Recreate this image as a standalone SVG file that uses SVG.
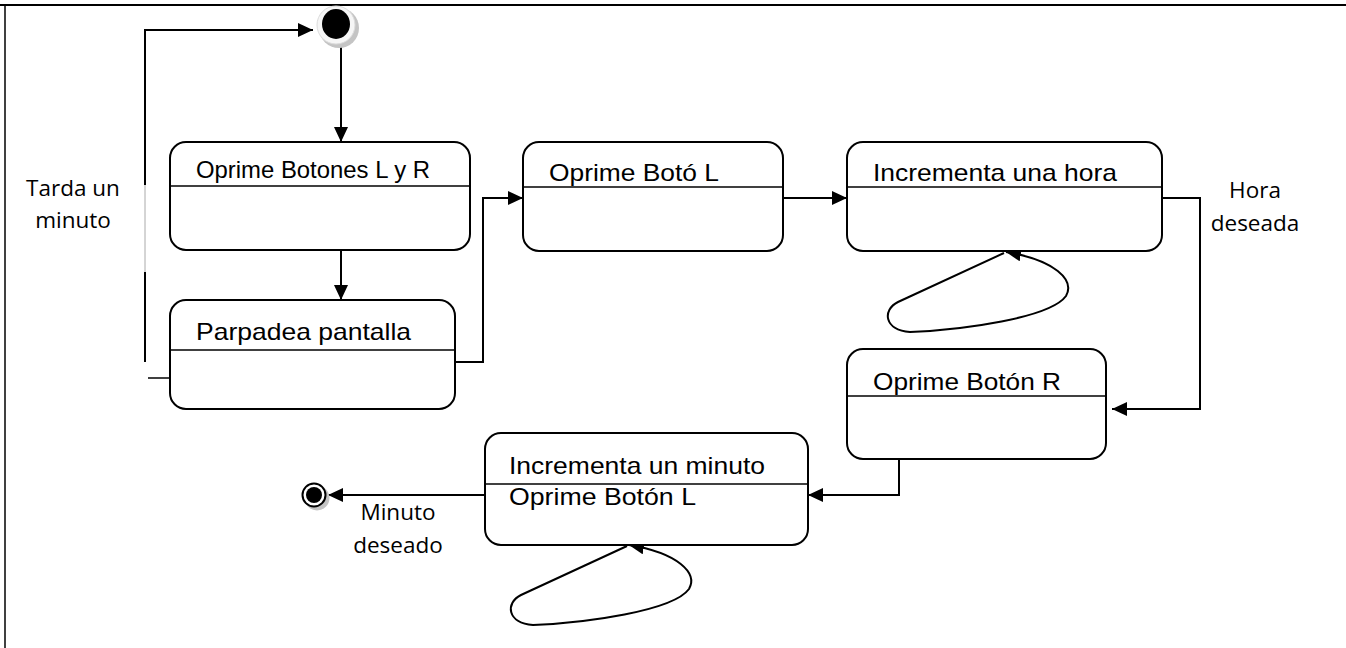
<svg xmlns="http://www.w3.org/2000/svg" width="1346" height="648" viewBox="0 0 1346 648">
<style>
.box{fill:#fff;stroke:#000;stroke-width:2}
.div{stroke:#000;stroke-width:1.5}
.st{font-family:"Liberation Sans",Arial,sans-serif;font-size:24px;fill:#000}
.lbl{font-family:"Open Sans","Liberation Sans",sans-serif;font-size:22.5px;fill:#000;text-anchor:middle}
.c{fill:none;stroke:#000;stroke-width:2}
</style>
<defs>
<marker id="ah" markerUnits="userSpaceOnUse" markerWidth="16" markerHeight="14" refX="15" refY="7" orient="auto">
<path d="M0,0 L15,7 L0,14 Z" fill="#000"/>
</marker>
</defs>
<rect width="1346" height="648" fill="#fff"/>
<g id="frame">
<line x1="0" y1="5" x2="1346" y2="5" stroke="#000" stroke-width="2"/>
<line x1="5" y1="5" x2="5" y2="648" stroke="#000" stroke-width="1.5"/>
</g>
<g id="connectors">
<path class="c" d="M145,185 V30 H313" marker-end="url(#ah)"/>
<line x1="145" y1="185" x2="145" y2="272" stroke="#aaa" stroke-width="1"/>
<line x1="145" y1="272" x2="145" y2="362" stroke="#000" stroke-width="2"/>
<line x1="148" y1="378" x2="171" y2="378" stroke="#000" stroke-width="1.5"/>
<path class="c" d="M341,43 V142" marker-end="url(#ah)"/>
<path class="c" d="M341,250 V300" marker-end="url(#ah)"/>
<path class="c" d="M455,362 H483 V198 H523" marker-end="url(#ah)"/>
<path class="c" d="M783,198 H847" marker-end="url(#ah)"/>
<path class="c" d="M1162,198 H1200 V409 H1112" marker-end="url(#ah)"/>
<path class="c" d="M899,459 V495 H808" marker-end="url(#ah)"/>
<path class="c" d="M485,495 H328" marker-end="url(#ah)"/>
<path class="c" d="M1004,253 L898,302 C882,310 884,330 910,332 C962,330 1050,318 1066,296 C1075,280 1055,260 1006,252" marker-end="url(#ah)"/>
<path class="c" d="M627,546 L521,595 C505,603 507,623 533,625 C585,623 673,611 689,589 C698,573 678,553 629,545" marker-end="url(#ah)"/>
</g>
<g id="initial">
<circle cx="339" cy="28" r="20" fill="#c4c4c4"/>
<circle cx="336" cy="25" r="19" fill="#f6f6f6" stroke="#dcdcdc" stroke-width="1"/>
<ellipse cx="336" cy="24" rx="14" ry="15" fill="#000"/>
</g>
<g id="final">
<circle cx="317" cy="498" r="12.5" fill="#c4c4c4"/>
<circle cx="314" cy="495" r="11.5" fill="#fff" stroke="#000" stroke-width="2"/>
<circle cx="314" cy="495" r="8" fill="#000"/>
</g>
<g id="s1">
<rect class="box" x="170" y="142" width="300" height="108" rx="16"/>
<line class="div" x1="170" y1="186" x2="470" y2="186"/>
<text class="st" x="196" y="178" font-size="21" textLength="234" lengthAdjust="spacingAndGlyphs">Oprime Botones L y R</text>
</g>
<g id="s2">
<rect class="box" x="170" y="300" width="285" height="109" rx="16"/>
<line class="div" x1="170" y1="350" x2="455" y2="350"/>
<text class="st" x="196" y="340" textLength="215" lengthAdjust="spacingAndGlyphs">Parpadea pantalla</text>
</g>
<g id="s3">
<rect class="box" x="523" y="142" width="260" height="109" rx="16"/>
<line class="div" x1="523" y1="187" x2="783" y2="187"/>
<text class="st" x="549" y="181" textLength="170" lengthAdjust="spacingAndGlyphs">Oprime Botó L</text>
</g>
<g id="s4">
<rect class="box" x="847" y="142" width="315" height="109" rx="16"/>
<line class="div" x1="847" y1="187" x2="1162" y2="187"/>
<text class="st" x="873" y="181" textLength="244" lengthAdjust="spacingAndGlyphs">Incrementa una hora</text>
</g>
<g id="s5">
<rect class="box" x="847" y="349" width="259" height="110" rx="16"/>
<line class="div" x1="847" y1="396" x2="1106" y2="396"/>
<text class="st" x="873" y="390" textLength="188" lengthAdjust="spacingAndGlyphs">Oprime Botón R</text>
</g>
<g id="s6">
<rect class="box" x="485" y="433" width="323" height="112" rx="16"/>
<line class="div" x1="485" y1="484" x2="808" y2="484"/>
<text class="st" x="509" y="474" textLength="256" lengthAdjust="spacingAndGlyphs">Incrementa un minuto</text>
<text class="st" x="509" y="505" textLength="187" lengthAdjust="spacingAndGlyphs">Oprime Botón L</text>
</g>
<g id="labels">
<text class="lbl" x="73" y="196">Tarda un</text>
<text class="lbl" x="73" y="228">minuto</text>
<text class="lbl" x="1255" y="198">Hora</text>
<text class="lbl" x="1255" y="231">deseada</text>
<text class="lbl" x="398" y="520">Minuto</text>
<text class="lbl" x="398" y="553">deseado</text>
</g>
</svg>
